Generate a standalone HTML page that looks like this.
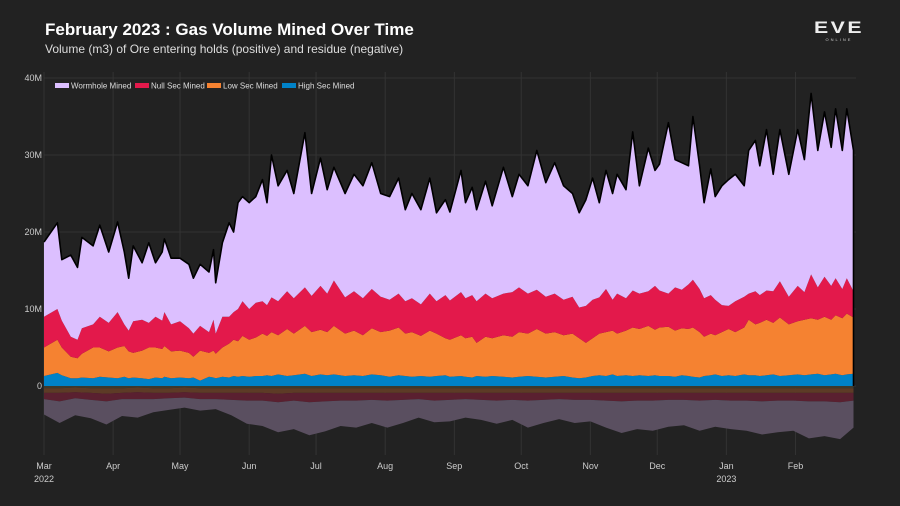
<!DOCTYPE html>
<html><head><meta charset="utf-8">
<style>
html,body{margin:0;padding:0;background:#222222;}
body{width:900px;height:506px;overflow:hidden;font-family:"Liberation Sans",sans-serif;position:relative;}
#title{position:absolute;left:45px;top:20px;color:#fff;font-size:17px;font-weight:bold;}
#subtitle{position:absolute;left:45px;top:42px;color:#ddd;font-size:12px;}
#logo{position:absolute;left:812px;top:19px;width:54px;text-align:center;color:#eee;}
#logo .eve{font-size:17px;font-weight:bold;letter-spacing:2px;transform:scaleX(1.25);display:block;line-height:18px;}
#logo .onl{font-size:4px;letter-spacing:2px;display:block;color:#ccc;}
svg{position:absolute;left:0;top:0;}
</style></head>
<body>
<div id="title">February 2023 : Gas Volume Mined Over Time</div>
<div id="subtitle">Volume (m3) of Ore entering holds (positive) and residue (negative)</div>
<div id="logo"><span class="eve">EVE</span><span class="onl">ONLINE</span></div>
<svg id="chart" width="900" height="506"></svg>
<script>
const days = [0,6,8,12,15,17,22,25,29,33,36,38,40,44,47,50,53,54,57,61,65,67,70,74,76,77,80,83,85,87,89,92,95,98,100,102,105,109,112,117,120,124,127,130,135,139,143,147,151,155,159,162,165,169,173,176,180,182,187,189,192,194,198,201,206,210,213,217,221,225,229,233,237,240,243,246,249,252,255,257,261,264,267,271,274,276,280,283,286,289,291,294,296,299,301,304,307,310,314,316,319,321,324,327,330,334,338,341,344,347,350,353,355,358,360,363];
const highSec = [1.3,1.7,1.4,1.0,1.0,1.1,1.0,1.2,1.1,1.0,1.2,1.0,1.1,1.0,0.9,1.1,1.0,1.2,1.0,1.1,1.0,1.1,0.7,1.2,1.1,1.0,1.2,1.1,1.3,1.2,1.3,1.2,1.3,1.3,1.4,1.3,1.5,1.3,1.4,1.6,1.3,1.5,1.4,1.5,1.3,1.4,1.3,1.5,1.4,1.2,1.4,1.3,1.2,1.3,1.2,1.3,1.4,1.2,1.3,1.2,1.1,1.3,1.2,1.3,1.2,1.1,1.2,1.3,1.2,1.1,1.2,1.3,1.1,1.0,1.1,1.3,1.4,1.3,1.5,1.3,1.4,1.3,1.4,1.3,1.4,1.3,1.3,1.2,1.4,1.3,1.2,1.1,1.3,1.4,1.5,1.3,1.4,1.3,1.5,1.4,1.4,1.3,1.4,1.5,1.3,1.4,1.5,1.4,1.5,1.6,1.4,1.5,1.6,1.4,1.5,1.6];
const lowSec = [3.7,4.3,3.6,2.8,2.6,3.1,4.0,3.8,3.4,4.0,4.0,3.5,3.2,3.6,4.1,3.9,3.8,4.0,3.5,3.5,3.3,2.7,3.9,3.1,3.5,3.2,3.8,4.4,4.7,4.6,5.2,4.8,5.0,5.5,5.1,5.7,5.1,6.1,5.4,6.2,5.7,5.8,5.6,6.3,5.5,5.8,5.3,6.0,5.6,6.0,6.2,5.5,5.8,5.2,6.0,5.5,4.8,4.8,5.3,5.0,5.3,4.3,5.2,4.9,5.4,5.3,5.8,5.5,6.2,5.7,5.8,5.3,5.7,5.2,4.5,4.9,5.4,5.7,5.7,5.5,5.8,6.3,6.0,6.5,5.9,6.3,6.4,6.0,6.1,6.1,6.4,5.9,5.1,5.4,5.1,5.7,6.0,5.7,6.1,7.2,6.6,6.9,7.2,6.7,7.6,6.6,6.9,7.2,7.3,7.0,7.6,7.1,7.6,7.4,7.9,7.3];
const nullSec = [4,4,3.5,2.6,2.4,3.3,3,4,3.7,4.6,2.8,2.7,4.1,4,3.2,4,3.7,4.4,3.5,3.8,3.2,3,3.2,2.7,4,2.6,4,3.5,3.6,4.2,4.5,4,4.5,4.2,4,4.5,4.4,4.9,4.6,5,4.7,5.7,5,5.9,4.7,5.1,4.8,5.1,4.6,4,4.4,4.2,4.4,4.1,4.8,4.2,5.6,5.1,5.6,5.2,5.4,5.4,5.6,5.2,5.4,5.8,5.8,5.2,5.1,4.8,5,4.6,4.8,4,4.8,5,4.7,5.6,4,5.2,4.2,4.8,4.6,4.5,5.7,4.8,4.3,5.6,5,5.8,6.2,5.6,5,5,4.6,3.5,3,4,4,3.4,4.3,3.6,3.8,4.1,4.7,3.6,4.6,3.6,5.7,4.2,5.2,4.4,4.8,3.8,4.6,3.4];
const wormhole = [9.7,11.2,7.9,10.6,9.4,11.8,10.2,11.9,9.2,11.7,9.4,6.8,9.8,7.4,10.4,7,8.9,9.5,8.6,8.2,8.3,7.2,8,7.8,9.1,6.6,9.6,12.2,10.4,13.8,13.6,13.8,13.8,15.8,13.3,18.5,15,15.7,13.6,20.1,13.3,16.6,13.5,14.7,13.5,15.2,14.6,16.4,13.4,13.4,15,11.9,13.6,12.3,15,11.5,12.4,11.5,15.8,12.4,14,11.9,14.6,12,16.4,12.4,14.7,14,18.1,14.8,17,14.8,13.4,12.3,13.8,15.8,12.3,15.4,13.8,15.5,14.1,20.6,14,18.6,15,16.4,22.2,16.6,16.5,15.4,21.2,16,12.4,16.4,13.4,15.5,16.4,16.5,14.4,18.6,19.6,16.8,20.9,15.2,19.7,15.9,20.3,17.2,23.5,17.8,21.4,18,22,18,22,18.3];

const resDays = [0,7,14,21,28,35,42,49,56,63,70,77,84,91,98,105,112,119,126,133,140,147,154,161,168,175,182,189,196,203,210,217,224,231,238,245,252,259,266,273,280,287,294,301,308,315,322,329,336,343,350,357,363];
const resHigh = [0.3,0.3,0.2,0.3,0.3,0.3,0.2,0.3,0.3,0.2,0.3,0.3,0.3,0.3,0.3,0.3,0.3,0.3,0.3,0.3,0.3,0.3,0.3,0.3,0.3,0.3,0.3,0.3,0.3,0.3,0.3,0.3,0.3,0.3,0.3,0.3,0.3,0.3,0.3,0.3,0.3,0.3,0.3,0.3,0.3,0.3,0.3,0.3,0.3,0.3,0.3,0.3,0.3];
const resLow = [0.6,0.6,0.6,0.6,0.7,0.6,0.6,0.6,0.6,0.6,0.6,0.6,0.6,0.6,0.6,0.7,0.6,0.6,0.6,0.6,0.6,0.6,0.6,0.6,0.6,0.6,0.6,0.6,0.6,0.6,0.6,0.6,0.6,0.6,0.6,0.6,0.6,0.6,0.6,0.6,0.6,0.6,0.6,0.6,0.6,0.6,0.6,0.6,0.6,0.6,0.6,0.6,0.6];
const resNull = [0.8,1.1,0.8,0.9,1.0,0.8,0.9,0.8,0.7,0.7,0.8,0.8,0.9,1.0,1.0,1.1,1.0,1.2,1.1,1.0,1.0,0.9,1.0,0.9,0.8,1.0,0.9,0.8,0.9,1.0,0.9,1.0,0.9,0.8,0.9,0.9,1.0,1.1,1.0,1.0,0.9,0.9,1.0,0.9,1.0,1.0,1.1,1.0,1.0,1.1,1.1,1.2,1.0];
const resWormhole = [2.0,2.8,2.2,2.4,3.0,2.2,2.4,1.7,1.5,1.3,1.5,1.3,2.0,3.0,3.3,3.9,3.7,4.3,3.9,3.3,3.5,3.0,3.5,3.0,2.4,2.8,2.8,2.4,2.6,3.0,2.6,3.5,3.0,2.6,3.0,2.8,3.5,4.1,3.7,3.9,3.5,3.3,3.9,3.5,3.7,3.9,4.3,4.1,3.9,4.8,4.5,4.8,3.5];

const yTicks = [0,10,20,30,40];
const yTickLabels = ["0","10M","20M","30M","40M"];
const monthDays = [0,31,61,92,122,153,184,214,245,275,306,337];
const monthLabels = ["Mar","Apr","May","Jun","Jul","Aug","Sep","Oct","Nov","Dec","Jan","Feb"];
const yearLabels = {0:"2022",306:"2023"};
const seriesNames = ["Wormhole Mined","Null Sec Mined","Low Sec Mined","High Sec Mined"];

const NS="http://www.w3.org/2000/svg";
const svg=document.getElementById('chart');
const X0=44, XD=2.23, Y0=386, YM=7.7;
const xs=d=>X0+d*XD;
const ys=v=>Y0-v*YM;
function mk(tag,attrs,parent){const e=document.createElementNS(NS,tag);for(const k in attrs)e.setAttribute(k,attrs[k]);(parent||svg).appendChild(e);return e;}

yTicks.forEach((t,i)=>{
  const l=mk('line',{x1:44,x2:856,y1:ys(t),y2:ys(t),stroke:'#333',"stroke-width":1});
  
  
  const tx=mk('text',{x:42,y:ys(t)+3,"text-anchor":"end",fill:'#ccc',"font-size":9});
  tx.textContent=yTickLabels[i];
  
  
});
monthDays.forEach((d,i)=>{
  const l=mk('line',{x1:xs(d),x2:xs(d),y1:72,y2:455,stroke:'#333',"stroke-width":1});
  
  
  const tx=mk('text',{x:xs(d),y:469,"text-anchor":"middle",fill:'#ccc',"font-size":9});
  tx.textContent=monthLabels[i];
  
  
  if(yearLabels[d]){
    const ty=mk('text',{x:xs(d),y:482,"text-anchor":"middle",fill:'#ccc',"font-size":9});
    ty.textContent=yearLabels[d];
    
    
  }
});

function stack(dd,list,sign,colors,names){
  let base=dd.map(()=>0);
  list.forEach((arr,si)=>{
    const top=base.map((b,i)=>b+sign*arr[i]);
    let p='M'+dd.map((d,i)=>xs(d).toFixed(1)+','+ys(top[i]).toFixed(1)).join('L');
    for(let i=dd.length-1;i>=0;i--)p+='L'+xs(dd[i]).toFixed(1)+','+ys(base[i]).toFixed(1);
    p+='Z';
    const a=mk('path',{d:p,fill:colors[si]});
    
    
    base=top;
  });
  return base;
}
const totalTop=stack(days,[highSec,lowSec,nullSec,wormhole],1,['#0082c8','#f58231','#e3194b','#dcbfff'],['area-high-sec','area-low-sec','area-null-sec','area-wormhole']);
stack(resDays,[resHigh,resLow,resNull,resWormhole],-1,['#3d3a2e','#5d3b26','#5a2030','#5a4f60'],['area-residue-high-sec','area-residue-low-sec','area-residue-null-sec','area-residue-wormhole']);
const last=days.length-1;
const ol=mk('path',{d:'M'+days.map((d,i)=>xs(d).toFixed(1)+','+ys(totalTop[i]).toFixed(1)).join('L')+'L'+xs(days[last]).toFixed(1)+','+ys(0),fill:'none',stroke:'#000',"stroke-width":1.6,"stroke-linejoin":"round"});



const lg=mk('g',{});


const legX=[55,135,207,282];
const legC=['#dcbfff','#e3194b','#f58231','#0082c8'];
seriesNames.forEach((n,i)=>{
  const r=mk('rect',{x:legX[i],y:83,width:14,height:5,fill:legC[i]},lg);
  
  
  const t=mk('text',{x:legX[i]+16,y:88.5,fill:'#ddd',"font-size":8},lg);
  t.textContent=n;
  
  
});
</script>
</body></html>
